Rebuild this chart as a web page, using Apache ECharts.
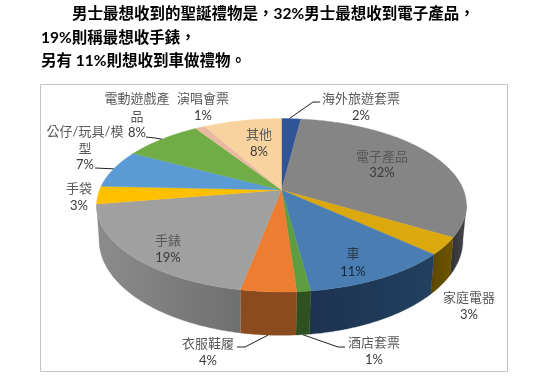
<!DOCTYPE html>
<html><head><meta charset="utf-8">
<style>html,body{margin:0;padding:0;background:#fff}#c{width:536px;height:383px}</style>
<script src="https://cdn.jsdelivr.net/npm/echarts@6/dist/echarts.min.js"></script>
</head><body><div id="c"></div>
<script>
// ---- data ----
const categories = ['海外旅遊套票','電子產品','家庭電器','車','酒店套票','衣服鞋履','手錶','手袋','公仔/玩具/模\n型','電動遊戲產\n品','演唱會票','其他'];
const shares = [2.0,31.6,3.2,11.1,1.0,4.1,19.4,3.3,7.1,8.1,1.0,8.1];
const titleLines = ['男士最想收到的聖誕禮物是，32%男士最想收到電子產品，','19%則稱最想收手錶，','另有 11%則想收到車做禮物。'];

// ---- styles ----
const topColors = ['#2f5597','#858585','#dba80e','#4a7eb3','#5f9e40','#ed7d31','#a0a0a0','#ffc000','#5b9bd5','#70ad47','#e8b9a0','#f8d39f'];
const sideColors = [['#1c3358','#1c3358'],['#303033','#48484c'],['#5c4700','#6e5500'],['#1c3350','#22405f'],['#2f5020','#2f5020'],['#8a4c1e','#8a4c1e'],['#8c8c8c','#6e6f6f'],['#8a6b00','#8a6b00'],['#345a7c','#345a7c'],['#40642a','#40642a'],['#8a6a58','#8a6a58'],['#8e7a5a','#8e7a5a']];

// ---- geometry of the tilted pie ----
const cx=281.5, cy=190, A=182, B=84, K=0.176;
const BOT_SX=0.984, BOT_SY=1.1, BOT_CY=240, TOP_CY_OFF=15.25;
const total = shares.reduce((s,v)=>s+v,0);
function startAngle(i){let s=0;for(let j=0;j<i;j++)s+=shares[j];return s/total*Math.PI*2;}
function rim(t){const X=Math.sin(t),Y=Math.cos(t),w=1+K*Y;return [A*X/w,-B*Y/w];}
function topPt(t){const p=rim(t);return [cx+p[0],cy+p[1]];}
function botPt(t){const p=rim(t);return [cx-0.5+p[0]*BOT_SX,BOT_CY+(p[1]-TOP_CY_OFF)*BOT_SY];}
function arc(i){const a=startAngle(i),b=startAngle(i+1),n=Math.max(4,Math.ceil((b-a)/0.01)),o=[];for(let k=0;k<=n;k++)o.push(a+(b-a)*k/n);return o;}

// ---- label layout: [x, y of each text line] ----
const labelLayout=[
 {x:361,y:[99,116]},{x:382,y:[157,173]},{x:469,y:[298,315]},{x:353,y:[254,272]},
 {x:374,y:[343,360]},{x:208,y:[344,361]},{x:168,y:[241,258]},{x:79,y:[189,206]},
 {x:85,y:[132,149,165]},{x:137,y:[99,117,133]},{x:203,y:[99,116]},{x:259,y:[135,152]}];
const darkName={3:1};
const leaders={
 0:{f:.4,from:'top',via:[[313,102],[320,102]]},
 4:{f:.5,from:'bot',via:[[338,347],[345,347]]},
 5:{f:.5,from:'bot',via:[[245,347],[237,347]]},
 8:{f:.5,from:'top',via:[[95,168]]},
 9:{f:.5,from:'top',via:[[155,138],[146,137]]}
};
const LATIN='Lato,"Noto Sans CJK TC",sans-serif';

const chart=echarts.init(document.getElementById('c'),null,{renderer:'canvas'});
chart.setOption({
 animation:false,
 backgroundColor:'#fff',
 graphic:[
  {type:'rect',shape:{x:40.5,y:84.5,width:467,height:287},style:{fill:'none',stroke:'#c4c4c4',lineWidth:1},z:0},
  {type:'text',style:{text:titleLines[0],x:72,y:14,verticalAlign:'middle',font:'bold 15.5px '+LATIN,fill:'#000'}},
  {type:'text',style:{text:titleLines[1],x:41,y:38,verticalAlign:'middle',font:'bold 15.5px '+LATIN,fill:'#000'}},
  {type:'text',style:{text:titleLines[2],x:41,y:61,verticalAlign:'middle',font:'bold 15.5px '+LATIN,fill:'#000'}}
 ],
 series:[
  {type:'custom',coordinateSystem:'none',z:2,silent:true,data:shares,
   renderItem(p,api){
    const i=p.dataIndex, ts=arc(i).filter(t=>Math.cos(t)<=-0.17);
    if(ts.length<2) return {type:'group',children:[]};
    const pts=ts.map(t=>topPt(t)).concat(ts.slice().reverse().map(t=>botPt(t)));
    const xs=pts.map(q=>q[0]);
    return {type:'polygon',shape:{points:pts},style:{
      fill:new echarts.graphic.LinearGradient(Math.min(...xs),0,Math.max(...xs),0,[{offset:0,color:sideColors[i][0]},{offset:1,color:sideColors[i][1]}],true),
      stroke:sideColors[i][0],lineWidth:.3}};
   }},
  {type:'custom',coordinateSystem:'none',z:3,silent:true,data:shares,
   renderItem(p,api){
    const i=p.dataIndex, pts=[[cx,cy]].concat(arc(i).map(t=>topPt(t)));
    return {type:'polygon',shape:{points:pts},style:{fill:topColors[i],stroke:topColors[i],lineWidth:.4}};
   }},
  {type:'custom',coordinateSystem:'none',z:4,silent:true,data:shares,
   renderItem(p,api){
    const i=p.dataIndex, L=labelLayout[i], names=categories[i].split('\n'), kids=[];
    names.forEach((n,j)=>kids.push({type:'text',style:{text:n,x:L.x,y:L.y[j],align:'center',verticalAlign:'middle',font:'13px '+LATIN,fill:darkName[i]?'#2a3a4a':'#595959'}}));
    kids.push({type:'text',style:{text:Math.round(api.value(0))+'%',x:L.x,y:L.y[names.length],align:'center',verticalAlign:'middle',font:'13px '+LATIN,fill:darkName[i]?'#14263c':'#3a3a3a'}});
    const ld=leaders[i];
    if(ld){const a=startAngle(i),b=startAngle(i+1),t=a+(b-a)*ld.f,s=ld.from==='top'?topPt(t):botPt(t);
     kids.push({type:'polyline',shape:{points:[s].concat(ld.via)},style:{stroke:'#222',lineWidth:1,fill:'none'}});}
    return {type:'group',children:kids};
   }}
 ]
});
</script></body></html>
